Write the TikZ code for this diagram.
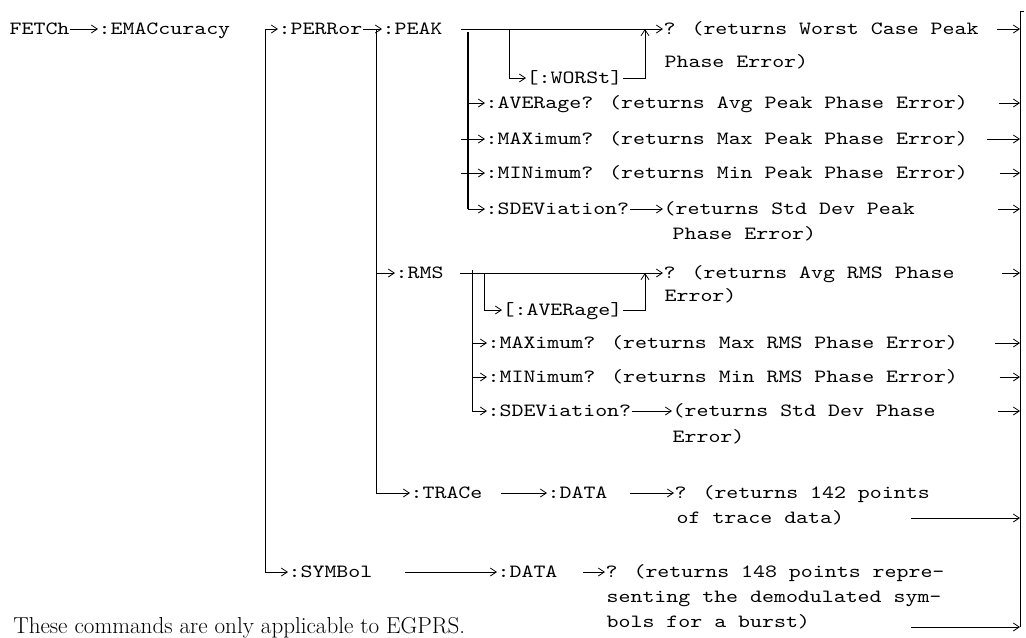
\documentclass[tikz,border=0pt]{standalone}
\usepackage{fontspec}
\usepackage{tikz}
\usetikzlibrary{arrows.meta, calc}
\newfontfamily\cmdfamily{lmmono10-regular.otf}[FakeStretch=1.22]
\newcommand\cmdfont{\cmdfamily\fontsize{14}{17}\selectfont}

\begin{document}
\begin{tikzpicture}[
  x=0.75pt, y=-0.75pt, line width=0.6pt,
  >={Straight Barb[length=4.5pt,width=6pt]},
  cmd/.style={font=\cmdfont, anchor=west,
              inner sep=0pt, outer sep=0.5pt, text height=9pt, text depth=1.5pt},
  bus/.style={line width=1.5pt}
]
\useasboundingbox (0,0) rectangle (1026,637);

% top level chain
\node[cmd] (fetch) at (9,29)  {FETCh};
\node[cmd] (emac)  at (98,29) {:EMACcuracy};
\node[cmd] (perr)  at (278,29) {:PERRor};
\node[cmd] (peak)  at (382,29) {:PEAK};
\node[cmd] (symb)  at (288,572) {:SYMBol};
\node[cmd] (rms)   at (395,273) {:RMS};
\node[cmd] (trace) at (410,493) {:TRACe};

\coordinate (emacbus) at (265.5,29);
\coordinate (perrbus) at (376.5,29);
\draw[->] (fetch) -- (emac);
\draw[->] (emacbus) -- (perr);
\draw[->] (emacbus) |- (symb);
\draw[->] (perr) -- (peak);
\draw[->] (perrbus) |- (rms);
\draw[->] (perrbus) |- (trace);

% :PEAK branch
\node[cmd] (pkq)  at (663,29) {? (returns Worst Case Peak};
\node[cmd] (pkq2) at (664,62) {Phase Error)};
\node[cmd] (worst) at (526,78) {[:WORSt]};
\coordinate (pkfork) at (509,29);
\coordinate (pkjoin) at (645,29);
\draw[->] (peak.east) ++(18,0) -- (pkq);
\draw[->] (pkfork) |- (worst);
\draw[->] (worst) -| (pkjoin);

\node[cmd] (pkavg)  at (485,103) {:AVERage? (returns Avg Peak Phase Error)};
\node[cmd] (pkmax)  at (485,139) {:MAXimum? (returns Max Peak Phase Error)};
\node[cmd] (pkmin)  at (485,173) {:MINimum? (returns Min Peak Phase Error)};
\node[cmd] (pksdev) at (485,209) {:SDEViation?};
\node[cmd] (pksdevr)  at (663,209) {(returns Std Dev Peak};
\node[cmd] (pksdevr2) at (672,234) {Phase Error)};
\coordinate (pkbus) at (468,32);
\draw[bus] (pkbus) -- (pkbus |- pksdev);
\draw[->] (pkbus |- pkavg) -- (pkavg);
\draw[->] ($(pkbus |- pkmax)+(-7,0)$) -- (pkmax);
\draw[->] ($(pkbus |- pkmin)+(-7,0)$) -- (pkmin);
\draw[->] (pkbus |- pksdev) -- (pksdev);
\draw[->] (pksdev) -- (pksdevr);

% :RMS branch
\node[cmd] (rmsq)  at (663,273) {? (returns Avg RMS Phase};
\node[cmd] (rmsq2) at (664,296) {Error)};
\node[cmd] (rmsavg) at (502,310) {[:AVERage]};
\coordinate (rmsfork) at (484,273);
\coordinate (rmsjoin) at (645,273);
\draw[->] (rms.east) ++(16,0) -- (rmsq);
\draw[->] (rmsfork) |- (rmsavg);
\draw[->] (rmsavg) -| (rmsjoin);

\node[cmd] (rmsmax)  at (487,343) {:MAXimum? (returns Max RMS Phase Error)};
\node[cmd] (rmsmin)  at (487,377) {:MINimum? (returns Min RMS Phase Error)};
\node[cmd] (rmssdev) at (487,411) {:SDEViation?};
\node[cmd] (rmssdevr)  at (672,411) {(returns Std Dev Phase};
\node[cmd] (rmssdevr2) at (672,437) {Error)};
\coordinate (rmsbus) at (472,270);
\draw (rmsbus) -- (rmsbus |- rmssdev);
\draw[->] (rmsbus |- rmsmax) -- (rmsmax);
\draw[->] (rmsbus |- rmsmin) -- (rmsmin);
\draw[->] (rmsbus |- rmssdev) -- (rmssdev);
\draw[->] (rmssdev) -- (rmssdevr);

% :TRACe and :SYMBol
\node[cmd] (trdata) at (547,493) {:DATA};
\node[cmd] (trq)  at (674,493) {? (returns 142 points};
\node[cmd] (trq2) at (676,518) {of trace data)};
\draw[->] (trace.east) ++(18,0) -- (trdata);
\draw[->] (trdata.east) ++(22,0) -- (trq);

\node[cmd] (sydata) at (497,572) {:DATA};
\node[cmd] (syq)  at (605,572) {? (returns 148 points repre-};
\node[cmd] (syq2) at (606,597) {senting the demodulated sym-};
\node[cmd] (syq3) at (606,622) {bols for a burst)};
\draw[->] (symb.east) ++(32,0) -- (sydata);
\draw[->] (sydata.east) ++(25,0) -- (syq);

% closing bar
\coordinate (bar) at (1020,11);
\coordinate (bartop) at (1024,11);
\coordinate (barend) at (911,627);
\draw (bartop) -- (bar) -- (bar |- barend);
\draw[->] (pkq.east) ++(18,0) -- (pkq -| bar);
\draw[->] (pkavg.east) ++(30,0) -- (pkavg -| bar);
\draw[->] (pkmax.east) ++(18,0) -- (pkmax -| bar);
\draw[->] (pkmin.east) ++(31,0) -- (pkmin -| bar);
\draw[->] (pksdevr.east) ++(83,0) -- (pksdevr -| bar);
\draw[->] (rmsq.east) ++(47,0) -- (rmsq -| bar);
\draw[->] (rmsmax.east) ++(36,0) -- (rmsmax -| bar);
\draw[->] (rmsmin.east) ++(41,0) -- (rmsmin -| bar);
\draw[->] (rmssdevr.east) ++(62,0) -- (rmssdevr -| bar);
\draw[->] (trq2.east) ++(66,0) -- (trq2 -| bar);
\draw[->] (barend) -- (barend -| bar);

\node[anchor=base west, inner sep=0pt, font=\fontsize{17.3}{20}\selectfont] (note)
  at (13,633) {These commands are only applicable to EGPRS.};
\end{tikzpicture}
\end{document}
